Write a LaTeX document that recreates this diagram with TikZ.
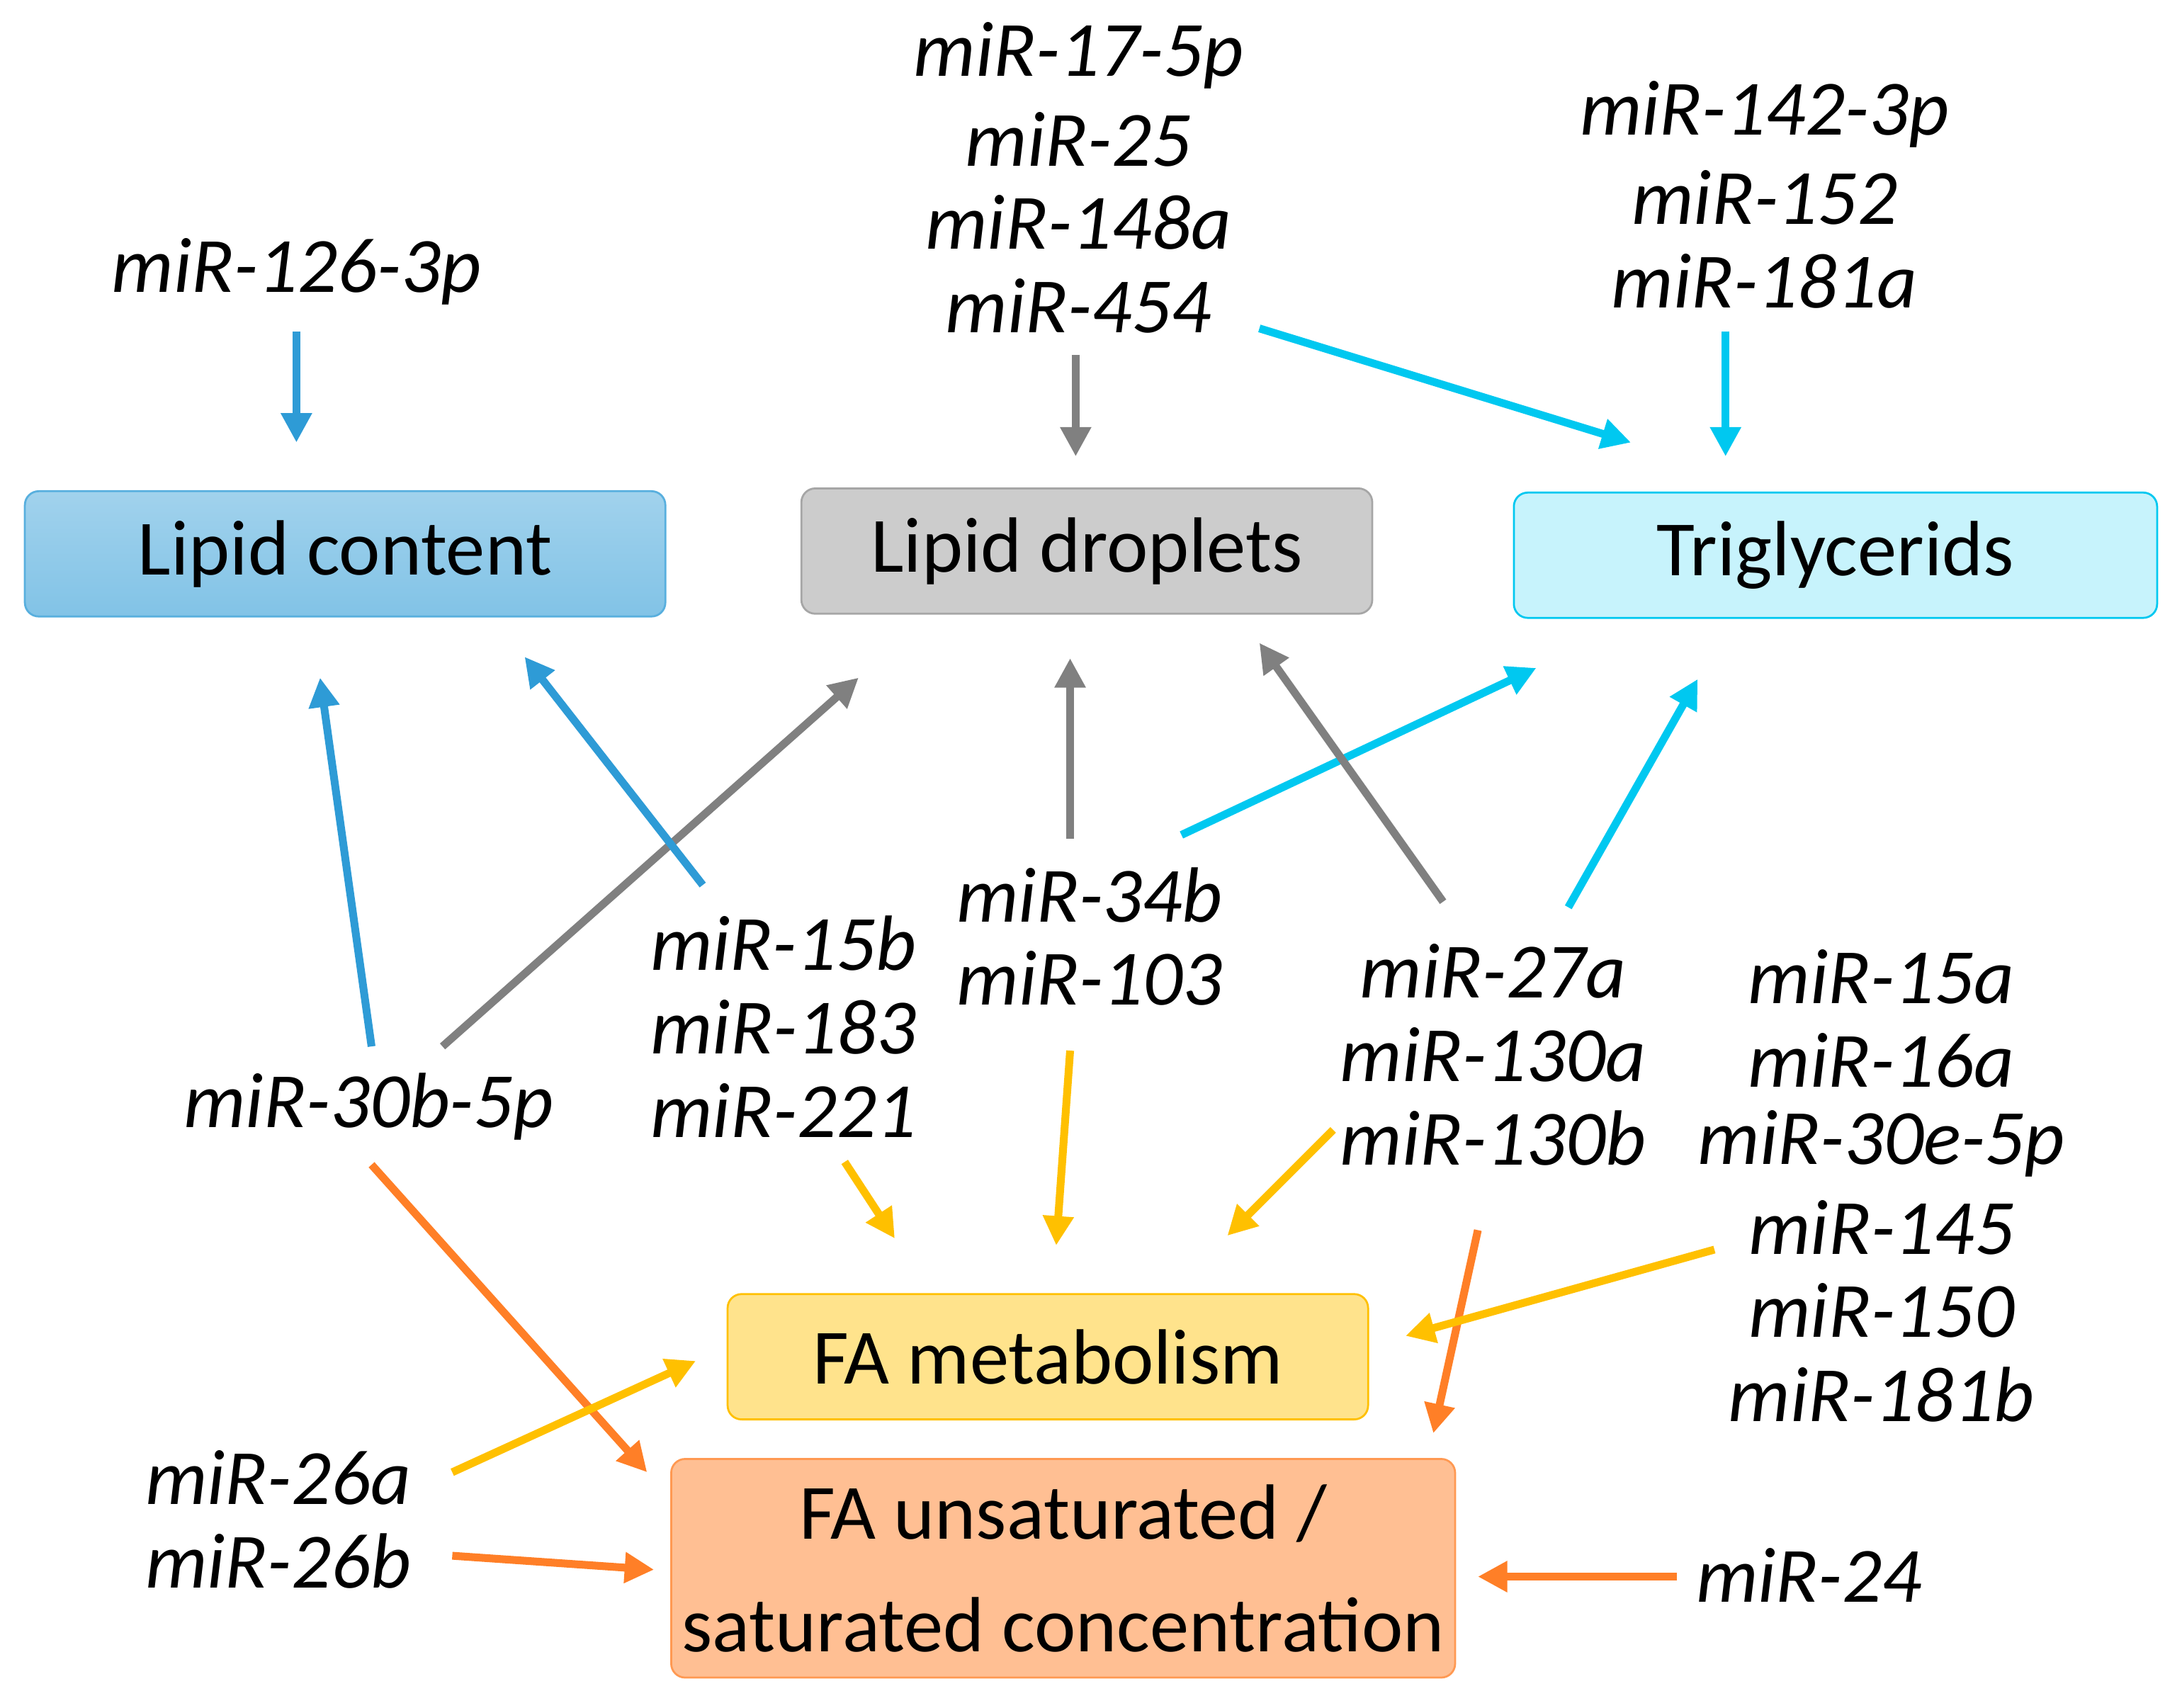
\documentclass[tikz,border=0pt]{standalone}
\usepackage{fontspec}
\setmainfont{Carlito}
\usetikzlibrary{arrows.meta, positioning}

\definecolor{lcblue}{RGB}{46, 155, 214}
\definecolor{tgcyan}{RGB}{0, 200, 240}
\definecolor{ldgray}{RGB}{128, 128, 128}
\definecolor{fayel}{RGB}{255, 192, 0}
\definecolor{faora}{RGB}{255, 127, 39}

\tikzset{
  box/.style={draw, rounded corners=0.1cm, minimum height=0.9cm, inner sep=0pt, font=\fontsize{16}{19}\selectfont},
  mir/.style={font=\fontsize{16}{19}\selectfont\itshape, inner sep=1pt},
  arr/.style={line width=1.6pt, -{Triangle[length=6pt,width=6pt]}}
}

\begin{document}
\begin{tikzpicture}[x=0.01cm, y=-0.01cm]
\useasboundingbox (0,0) rectangle (1568,1227);

% --- BOXES ---
\node[box, minimum width=4.6cm, draw=lcblue!80, top color=lcblue!45, bottom color=lcblue!60] (lc) at (248,398) {Lipid content};
\node[box, minimum width=4.1cm, draw=ldgray!70, fill=black!20] (ld) at (781,396) {Lipid droplets};
\node[box, minimum width=4.62cm, draw=tgcyan, fill=tgcyan!22] (tg) at (1319,399) {Triglycerids};
\node[box, minimum width=4.6cm, draw=fayel, fill=fayel!45] (fam) at (753,975) {FA metabolism};
\node[box, minimum width=5.63cm, minimum height=1.57cm, align=center, draw=faora!80, fill=faora!50] (fau) at (764,1127)
  {FA unsaturated /\\[4pt] saturated concentration};

% --- miRNA LABELS ---
\node[mir] (m126) at (213,195) {miR-126-3p};
\foreach \t [count=\i] in {miR-17-5p, miR-25, miR-148a, miR-454}
  \node[mir] (mA\i) at (775,{-20+60*\i}) {\t};
\foreach \t [count=\i] in {miR-142-3p, miR-152, miR-181a}
  \node[mir] (mB\i) at (1268,{22+60*\i}) {\t};
\node[mir] (m30b) at (265,795) {miR-30b-5p};
\foreach \t [count=\i] in {miR-15b, miR-183, miR-221}
  \node[mir] (mC\i) at (563,{618+60*\i}) {\t};
\foreach \t [count=\i] in {miR-34b, miR-103}
  \node[mir] (mD\i) at (783,{583+60*\i}) {\t};
\foreach \t [count=\i] in {miR-27a, miR-130a, miR-130b}
  \node[mir] (mE\i) at (1073,{638+60*\i}) {\t};
\foreach \t [count=\i] in {miR-15a, miR-16a, miR-30e-5p, miR-145, miR-150, miR-181b}
  \node[mir] (mF\i) at (1352,{642+60*\i}) {\t};
\node[mir] (m26a) at (200,1062) {miR-26a};
\node[mir] (m26b) at (200,1122) {miR-26b};
\node[mir] (m24) at (1300,1132) {miR-24};

% --- ARROW ENDS ---
\coordinate (a1) at (213,238); \coordinate (b1) at (213,318);
\coordinate (a2) at (773,255); \coordinate (b2) at (773,328);
\coordinate (a3) at (905,236); \coordinate (b3) at (1172,318);
\coordinate (a4) at (1240,238); \coordinate (b4) at (1240,328);
\coordinate (a5) at (267,752); \coordinate (b5) at (230,487);
\coordinate (a6) at (318,752); \coordinate (b6) at (617,487);
\coordinate (a7) at (267,837); \coordinate (b7) at (465,1058);
\coordinate (a8) at (505,636); \coordinate (b8) at (377,472);
\coordinate (a9) at (607,835); \coordinate (b9) at (643,890);
\coordinate (a10) at (769,603); \coordinate (b10) at (769,473);
\coordinate (a11) at (849,600); \coordinate (b11) at (1104,480);
\coordinate (a12) at (769,755); \coordinate (b12) at (759,895);
\coordinate (a13) at (1037,648); \coordinate (b13) at (905,462);
\coordinate (a14) at (1127,652); \coordinate (b14) at (1220,488);
\coordinate (a15) at (958,812); \coordinate (b15) at (882,888);
\coordinate (a16) at (1062,884); \coordinate (b16) at (1030,1030);
\coordinate (a17) at (1232,898); \coordinate (b17) at (1010,960);
\coordinate (a18) at (325,1058); \coordinate (b18) at (500,978);
\coordinate (a19) at (325,1118); \coordinate (b19) at (470,1128);
\coordinate (a20) at (1205,1133); \coordinate (b20) at (1062,1133);

% --- ARROWS ---
\draw[arr, lcblue] (a1) -- (b1);
\draw[arr, ldgray] (a2) -- (b2);
\draw[arr, tgcyan] (a3) -- (b3);
\draw[arr, tgcyan] (a4) -- (b4);
\draw[arr, lcblue] (a5) -- (b5);
\draw[arr, ldgray] (a6) -- (b6);
\draw[arr, faora] (a7) -- (b7);
\draw[arr, lcblue] (a8) -- (b8);
\draw[arr, fayel] (a9) -- (b9);
\draw[arr, ldgray] (a10) -- (b10);
\draw[arr, tgcyan] (a11) -- (b11);
\draw[arr, fayel] (a12) -- (b12);
\draw[arr, ldgray] (a13) -- (b13);
\draw[arr, tgcyan] (a14) -- (b14);
\draw[arr, fayel] (a15) -- (b15);
\draw[arr, faora] (a16) -- (b16);
\draw[arr, fayel] (a17) -- (b17);
\draw[arr, fayel] (a18) -- (b18);
\draw[arr, faora] (a19) -- (b19);
\draw[arr, faora] (a20) -- (b20);

\end{tikzpicture}
\end{document}
